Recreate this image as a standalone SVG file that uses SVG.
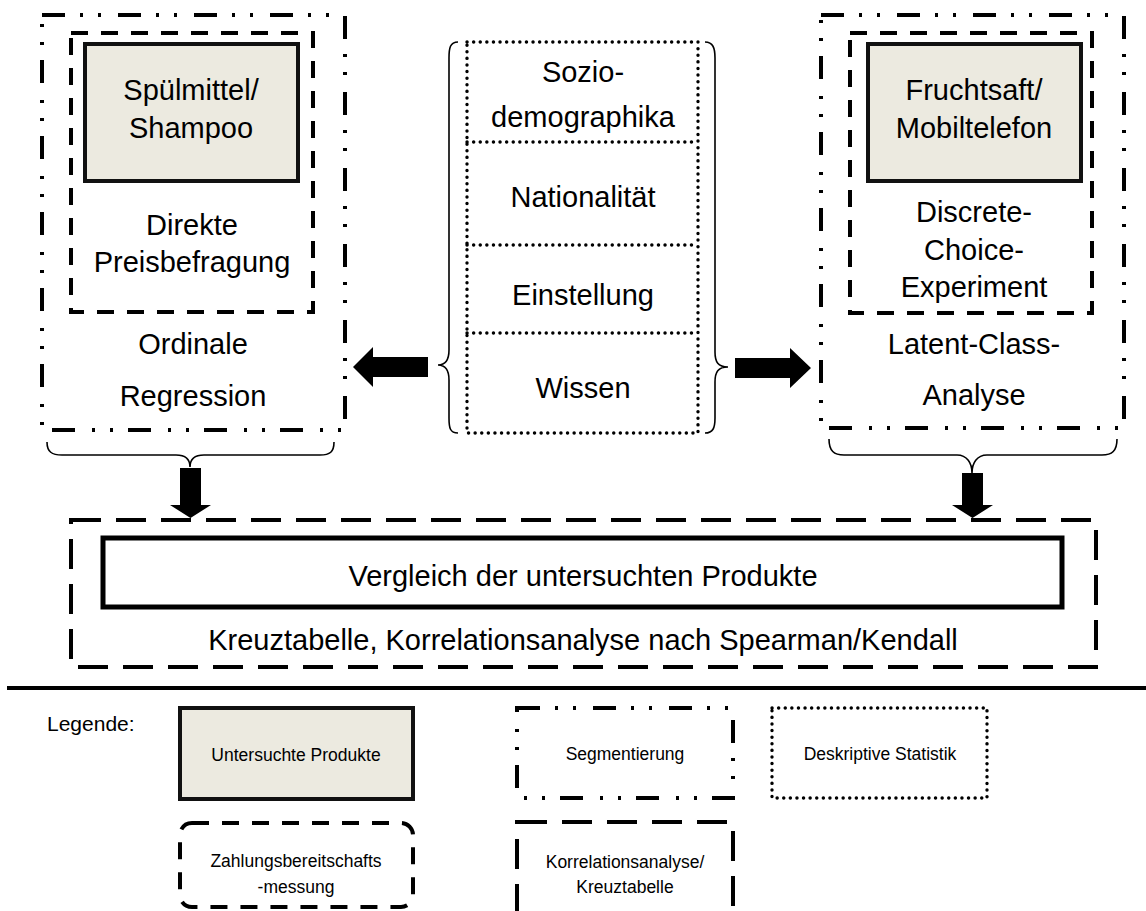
<svg xmlns="http://www.w3.org/2000/svg" width="1146" height="911" viewBox="0 0 1146 911">
  <style>
    text { font-family: "Liberation Sans", Arial, sans-serif; fill: #000; text-anchor: middle; }
    .t29 { font-size: 29px; }
    .leg { font-size: 17.5px; }
    .product { fill: #ECEAE0; stroke: #111; stroke-width: 4; }
    .solid { fill: none; stroke: #000; stroke-width: 5; }
    .segment { fill: none; stroke: #000; stroke-width: 4; stroke-dasharray: 23 15 3 15 3 17; }
    .wtp { fill: none; stroke: #000; stroke-width: 4; stroke-dasharray: 17 13; }
    .corr { fill: none; stroke: #000; stroke-width: 4; stroke-dasharray: 30 15; }
    .desc { fill: none; stroke: #000; stroke-width: 3.4; stroke-dasharray: 0.1 6.5; stroke-linecap: round; }
    .brace { fill: none; stroke: #000; stroke-width: 1.6; }
    .arrow { fill: #000; stroke: none; }
  </style>

  <!-- left method block -->
  <g id="left-block">
    <rect class="segment" x="42" y="15" width="303" height="415"/>
    <rect class="wtp" x="71" y="33" width="242" height="279"/>
    <rect class="product" x="85" y="44" width="213" height="137"/>
    <text class="t29" x="191" y="100">Spülmittel/</text>
    <text class="t29" x="191" y="138">Shampoo</text>
    <text class="t29" x="192" y="235">Direkte</text>
    <text class="t29" x="192" y="272">Preisbefragung</text>
    <text class="t29" x="193" y="354">Ordinale</text>
    <text class="t29" x="193" y="406">Regression</text>
  </g>

  <!-- consumer characteristics -->
  <g id="center-block">
    <rect class="desc" x="467" y="42" width="231" height="391"/>
    <line class="desc" x1="467" y1="142" x2="698" y2="142"/>
    <line class="desc" x1="467" y1="245" x2="698" y2="245"/>
    <line class="desc" x1="467" y1="333" x2="698" y2="333"/>
    <text class="t29" x="583" y="82">Sozio-</text>
    <text class="t29" x="583" y="127">demographika</text>
    <text class="t29" x="583" y="207">Nationalität</text>
    <text class="t29" x="583" y="305">Einstellung</text>
    <text class="t29" x="583" y="398">Wissen</text>
  </g>

  <!-- right method block -->
  <g id="right-block">
    <rect class="segment" x="821" y="15" width="303" height="413"/>
    <rect class="wtp" x="850" y="33" width="242" height="280"/>
    <rect class="product" x="868" y="44" width="213" height="137"/>
    <text class="t29" x="974" y="100">Fruchtsaft/</text>
    <text class="t29" x="974" y="138">Mobiltelefon</text>
    <text class="t29" x="974" y="222">Discrete-</text>
    <text class="t29" x="974" y="260">Choice-</text>
    <text class="t29" x="974" y="297">Experiment</text>
    <text class="t29" x="974" y="354">Latent-Class-</text>
    <text class="t29" x="974" y="405">Analyse</text>
  </g>

  <!-- product comparison -->
  <g id="comparison-block">
    <rect class="corr" x="71" y="520" width="1025" height="147"/>
    <rect class="solid" x="103" y="538" width="959" height="69"/>
    <text class="t29" x="583" y="586">Vergleich der untersuchten Produkte</text>
    <text class="t29" x="583" y="650">Kreuztabelle, Korrelationsanalyse nach Spearman/Kendall</text>
  </g>

  <!-- braces and block arrows -->
  <g id="connectors">
    <path class="brace" d="M458,42 C450,42 449,48 449,58 L449,350 C449,360 446,365 438,365 C446,365 449,370 449,380 L449,418 C449,428 450,433 458,433"/>
    <path class="brace" d="M705,42 C713,42 715,48 715,58 L715,352 C715,362 718,367 728,367 C718,367 715,372 715,382 L715,418 C715,428 713,433 705,433"/>
    <polygon class="arrow" points="428,357 373,357 373,347 353,367 373,387 373,377 428,377"/>
    <polygon class="arrow" points="735,358 790,358 790,348 811,368 790,388 790,378 735,378"/>
    <path class="brace" d="M47,442 C47,452 52,455 62,455 L176,455 C186,455 190,459 190,467 C190,459 194,455 204,455 L320,455 C330,455 334,452 334,442"/>
    <path class="brace" d="M829,439 C829,451 834,455 844,455 L957,455 C967,455 972,463 972,473 C972,463 977,455 987,455 L1102,455 C1112,455 1117,451 1117,439"/>
    <polygon class="arrow" points="180,468 201,468 201,505 211,505 190.5,518 170,505 180,505"/>
    <polygon class="arrow" points="962,473 983,473 983,505 993,505 972.5,518 952,505 962,505"/>
  </g>

  <!-- separator -->
  <line x1="7" y1="688" x2="1146" y2="688" stroke="#000" stroke-width="4"/>

  <!-- legend -->
  <g id="legend">
    <text x="47" y="731" style="text-anchor:start; font-size:21px">Legende:</text>
    <g id="legend-products">
      <rect class="product" x="180" y="708" width="233" height="91"/>
      <text class="leg" x="296" y="761">Untersuchte Produkte</text>
    </g>
    <g id="legend-segmentation">
      <rect class="segment" x="517" y="708" width="216" height="90"/>
      <text class="leg" x="625" y="760">Segmentierung</text>
    </g>
    <g id="legend-descriptive">
      <rect class="desc" x="772" y="708" width="215" height="90"/>
      <text class="leg" x="880" y="760">Deskriptive Statistik</text>
    </g>
    <g id="legend-wtp">
      <rect class="wtp" x="180" y="823" width="233" height="84" rx="12"/>
      <text class="leg" x="296" y="867">Zahlungsbereitschafts</text>
      <text class="leg" x="296" y="893">-messung</text>
    </g>
    <g id="legend-correlation">
      <rect class="corr" x="517" y="822" width="216" height="100"/>
      <text class="leg" x="625" y="868">Korrelationsanalyse/</text>
      <text class="leg" x="625" y="893">Kreuztabelle</text>
    </g>
  </g>
</svg>
